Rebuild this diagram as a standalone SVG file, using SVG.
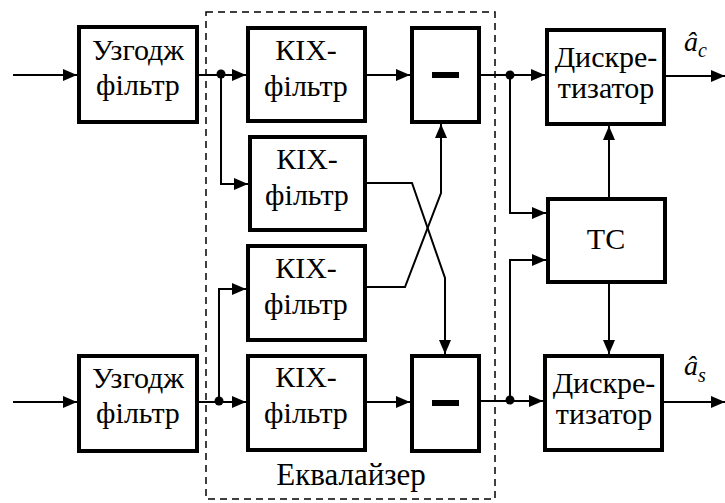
<svg xmlns="http://www.w3.org/2000/svg" width="725" height="503" viewBox="0 0 725 503">
<defs>
<marker id="ah" markerUnits="userSpaceOnUse" markerWidth="14" markerHeight="12" viewBox="0 0 14 12" refX="14" refY="6" orient="auto">
<path d="M0,0 L14,6 L0,12 Z" fill="#000"/>
</marker>
<style>
.box{fill:#fff;stroke:#000;stroke-width:4}
.ln{fill:none;stroke:#000;stroke-width:2}
.ar{marker-end:url(#ah)}
.t{text-anchor:middle;fill:#000}
.it{font-style:italic;fill:#000}
</style>
</defs>
<rect x="206" y="12" width="289" height="487" fill="none" stroke="#000" stroke-width="1.5" stroke-dasharray="7,5"/>
<g font-family="Liberation Serif, Times New Roman, serif" font-size="30">
<g id="uz1"><rect class="box" x="79" y="27" width="118" height="95"/><text class="t" x="138" y="60">Узгодж</text><text class="t" x="138" y="95">фільтр</text></g>
<g id="uz2"><rect class="box" x="79" y="356" width="118" height="95"/><text class="t" x="138" y="388">Узгодж</text><text class="t" x="138" y="423">фільтр</text></g>
<g id="kix1"><rect class="box" x="248" y="28" width="117" height="93"/><text class="t" x="306" y="60">КІХ-</text><text class="t" x="306" y="96">фільтр</text></g>
<g id="kix2"><rect class="box" x="250" y="137" width="115" height="93"/><text class="t" x="307" y="169">КІХ-</text><text class="t" x="307" y="205">фільтр</text></g>
<g id="kix3"><rect class="box" x="248" y="246" width="117" height="94"/><text class="t" x="306" y="278">КІХ-</text><text class="t" x="306" y="314">фільтр</text></g>
<g id="kix4"><rect class="box" x="248" y="356" width="117" height="94"/><text class="t" x="306" y="387">КІХ-</text><text class="t" x="306" y="423">фільтр</text></g>
<g id="minus1"><rect class="box" x="412" y="28" width="67" height="94"/><rect x="432" y="72" width="27" height="6" fill="#000"/></g>
<g id="minus2"><rect class="box" x="412" y="356" width="67" height="95"/><rect x="432" y="400" width="27" height="6" fill="#000"/></g>
<g id="disc1"><rect class="box" x="547" y="30" width="117" height="94"/><text class="t" x="606" y="67">Дискре-</text><text class="t" x="606" y="98">тизатор</text></g>
<g id="disc2"><rect class="box" x="545" y="356" width="117" height="94"/><text class="t" x="604" y="393">Дискре-</text><text class="t" x="604" y="424">тизатор</text></g>
<g id="tc"><rect class="box" x="548" y="199" width="117" height="83"/><text class="t" x="606" y="249">ТС</text></g>
<text class="t" x="351" y="485" font-size="31">Еквалайзер</text>
<text class="it" x="684" y="51" font-size="28">â<tspan dy="6" font-size="20">c</tspan></text>
<text class="it" x="684" y="375" font-size="28">â<tspan dy="7" font-size="20">s</tspan></text>
</g>
<g id="connectors">
<path class="ln ar" d="M13,75 H77"/>
<path class="ln ar" d="M199,75 H246"/>
<path class="ln ar" d="M221,75 V184 H248"/>
<path class="ln ar" d="M367,75 H410"/>
<path class="ln ar" d="M481,75 H545"/>
<path class="ln ar" d="M510,75 V213 H546"/>
<path class="ln ar" d="M666,76 H725"/>
<path class="ln ar" d="M13,402 H77"/>
<path class="ln ar" d="M199,402 H246"/>
<path class="ln ar" d="M219,402 V289 H246"/>
<path class="ln ar" d="M367,402 H410"/>
<path class="ln ar" d="M481,401 H543"/>
<path class="ln ar" d="M510,401 V260 H546"/>
<path class="ln ar" d="M664,402 H725"/>
<path class="ln ar" d="M367,183 H412 L445,278 V354"/>
<path class="ln ar" d="M367,287 H405 L441,193 V124"/>
<path class="ln ar" d="M609,197 V126"/>
<path class="ln ar" d="M609,284 V354"/>
<circle cx="221" cy="74" r="4.5"/>
<circle cx="219" cy="401" r="4.5"/>
<circle cx="510" cy="75" r="4.5"/>
<circle cx="510" cy="400" r="4.5"/>
</g>
</svg>
